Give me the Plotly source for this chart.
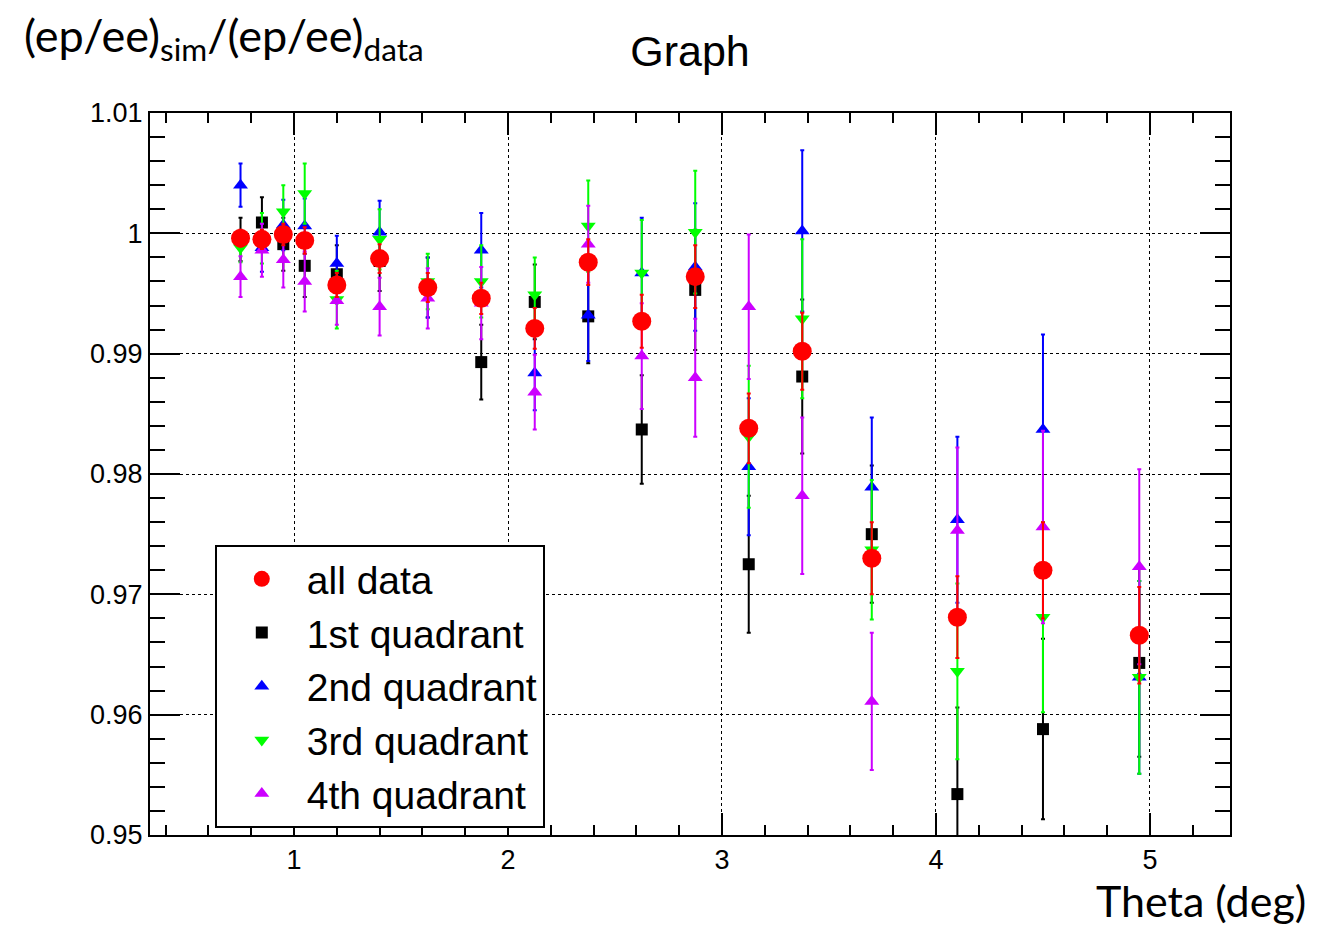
import plotly.graph_objects as go

theta = [0.75, 0.85, 0.95, 1.05, 1.2, 1.4, 1.625, 1.875, 2.125, 2.375,
         2.625, 2.875, 3.125, 3.375, 3.7, 4.1, 4.5, 4.95]

all_val = [0.9996, 0.9995, 0.9999, 0.9994, 0.9957, 0.9979, 0.9955, 0.9946, 0.9921, 0.9976,
           0.9927, 0.9964, 0.9838, 0.9902, 0.9730, 0.9681, 0.9720, 0.9666]
all_err = [0.0007, 0.0008, 0.0009, 0.0011, 0.0010, 0.0012, 0.0012, 0.0013, 0.0017, 0.0019,
           0.0022, 0.0026, 0.0029, 0.0032, 0.0030, 0.0034, 0.0040, 0.0040]

q1_val = [0.9995, 1.0009, 0.9991, 0.9973, 0.9966, 0.9977, 0.9955, 0.9893, 0.9943, 0.9931,
          0.9837, 0.9953, 0.9725, 0.9881, 0.9750, 0.9534, 0.9588, 0.9643]
q1_err = [0.0018, 0.0021, 0.0022, 0.0026, 0.0024, 0.0025, 0.0025, 0.0031, 0.0031, 0.0039,
          0.0045, 0.0050, 0.0057, 0.0064, 0.0057, 0.0072, 0.0075, 0.0078]

q2_val = [1.0040, 0.9988, 1.0007, 1.0006, 0.9975, 1.0001, 0.9955, 0.9986, 0.9884, 0.9932,
          0.9967, 0.9972, 0.9806, 1.0002, 0.9789, 0.9762, 0.9837, 0.9631]
q2_err = [0.0018, 0.0020, 0.0021, 0.0023, 0.0023, 0.0026, 0.0025, 0.0031, 0.0031, 0.0038,
          0.0046, 0.0053, 0.0057, 0.0067, 0.0058, 0.0069, 0.0079, 0.0080]

q3_val = [0.9988, 0.9996, 1.0018, 1.0033, 0.9945, 0.9995, 0.9960, 0.9960, 0.9949, 1.0006,
          0.9967, 1.0001, 0.9831, 0.9929, 0.9737, 0.9636, 0.9681, 0.9631]
q3_err = [0.0012, 0.0021, 0.0022, 0.0025, 0.0024, 0.0025, 0.0023, 0.0030, 0.0031, 0.0038,
          0.0044, 0.0051, 0.0059, 0.0066, 0.0058, 0.0073, 0.0079, 0.0080]

q4_val = [0.9964, 0.9986, 0.9978, 0.9960, 0.9944, 0.9939, 0.9946, 0.9942, 0.9868, 0.9991,
          0.9898, 0.9880, 0.9939, 0.9782, 0.9611, 0.9753, 0.9756, 0.9723]
q4_err = [0.0017, 0.0022, 0.0023, 0.0025, 0.0020, 0.0024, 0.0025, 0.0030, 0.0031, 0.0032,
          0.0044, 0.0049, 0.0060, 0.0065, 0.0057, 0.0069, 0.0080, 0.0081]

series = [
    ("1st quadrant", q1_val, q1_err, "#000000", "square", 12, 2),
    ("2nd quadrant", q2_val, q2_err, "#0000ff", "triangle-up", 13, 3),
    ("3rd quadrant", q3_val, q3_err, "#00ff00", "triangle-down", 13, 4),
    ("4th quadrant", q4_val, q4_err, "#cc00ff", "triangle-up", 13, 5),
    ("all data", all_val, all_err, "#ff0000", "circle", 19, 1),
]

fig = go.Figure()
for name, vals, errs, col, sym, size, rank in series:
    fig.add_trace(go.Scatter(
        x=theta, y=vals, mode="markers", name=name, legendrank=rank,
        marker=dict(color=col, symbol=sym, size=size, line=dict(width=0)),
        error_y=dict(type="data", array=errs, visible=True, color=col,
                     thickness=2, width=2),
    ))

axis_common = dict(
    showline=True, linewidth=2, linecolor="black", mirror="ticks",
    ticks="inside", tickcolor="black", tickwidth=2,
    showgrid=True, gridcolor="black", gridwidth=1, griddash="dot",
    zeroline=False,
    tickfont=dict(family="Liberation Sans", size=27, color="black"),
)

fig.update_xaxes(range=[0.327, 5.374], tick0=1, dtick=1, ticklen=22,
                 minor=dict(dtick=0.2, ticks="inside", ticklen=10, tickcolor="black",
                            tickwidth=2, showgrid=False),
                 **axis_common)
fig.update_yaxes(range=[0.95, 1.01], tick0=0.95, dtick=0.01, ticklen=30,
                 minor=dict(dtick=0.002, ticks="inside", ticklen=15, tickcolor="black",
                            tickwidth=2, showgrid=False),
                 **axis_common)

# page has an 8px body margin; margins compensate so the frame sits at 150..1230 x 113..835
fig.update_layout(
    width=1335, height=927,
    margin=dict(l=142, r=113, t=105, b=100),
    paper_bgcolor="white", plot_bgcolor="white",
    title=dict(text="Graph", x=0.5, xref="paper", xanchor="center",
               y=1 - 43 / 927, yanchor="middle",
               font=dict(family="Liberation Sans", size=43, color="black")),
    legend=dict(x=0.060, y=0.4017, xanchor="left", yanchor="top",
                bgcolor="white", bordercolor="black", borderwidth=2,
                font=dict(family="Liberation Sans", size=39, color="black"),
                itemwidth=80),
    showlegend=True,
    annotations=[
        dict(text="(ep/ee)<sub>sim</sub>/(ep/ee)<sub>data</sub>",
             xref="paper", yref="paper", x=(22 - 150) / 1080, y=(835 - 38) / 722,
             xanchor="left", yanchor="middle", showarrow=False,
             font=dict(family="Lato", size=45, color="black")),
        dict(text="Theta (deg)",
             xref="paper", yref="paper", x=(1308 - 150) / 1080, y=(835 - 873) / 722,
             xanchor="right", yanchor="top", showarrow=False,
             font=dict(family="Lato", size=43, color="black")),
    ],
)

fig.write_html("out.html")
